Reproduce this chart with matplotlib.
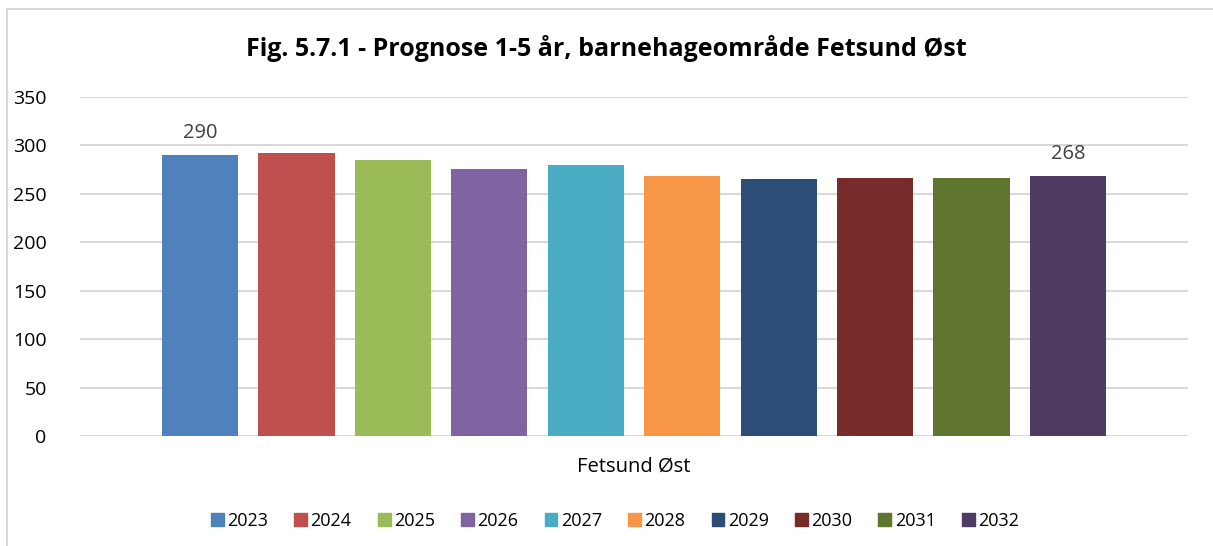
import matplotlib.pyplot as plt
from matplotlib.patches import Patch

years = ['2023', '2024', '2025', '2026', '2027', '2028', '2029', '2030', '2031', '2032']
values = [290, 292, 285, 276, 280, 268, 265, 266, 266, 268]
colors = ['#4f81bd', '#c0504d', '#9bbb59', '#8064a2', '#4bacc6',
          '#f79646', '#2c4d75', '#772c2a', '#5f7530', '#4d3b62']
labelled = {0, 9}  # only first and last bars carry a data label

plt.rcParams['font.family'] = ['Open Sans', 'DejaVu Sans']

fig = plt.figure(figsize=(12.13, 5.46), dpi=100)
W, H = 1213, 546
ax = fig.add_axes([80 / W, 1 - 436 / H, (1188 - 80) / W, (436 - 97) / H])

x = list(range(len(years)))
ax.bar(x, values, width=0.79, color=colors, zorder=3)
for i in labelled:
    ax.text(x[i], values[i] + 13, str(values[i]), ha='center', va='bottom',
            fontsize=14.5, color='#404040')

ax.set_ylim(0, 350)
ax.set_xlim(-1.244, 9 + 1.244)
ax.set_yticks(range(0, 351, 50))
ax.grid(axis='y', color='#d9d9d9', linewidth=1.5, zorder=0)
for s in ax.spines.values():
    s.set_visible(False)
ax.tick_params(axis='y', length=0, labelsize=14, pad=24)
ax.set_xticks([])
ax.text(0.5, -0.09, 'Fetsund Øst', transform=ax.transAxes, ha='center', va='center',
        fontsize=14.5)

fig.text(0.5, 1 - 48 / H, 'Fig. 5.7.1 - Prognose 1-5 år, barnehageområde Fetsund Øst',
         ha='center', va='center', fontsize=18, fontweight='bold')

handles = [Patch(color=c) for c in colors]
fig.legend(handles, years, loc='center', bbox_to_anchor=(615 / W, 1 - 521 / H), ncol=10,
           frameon=False, fontsize=13, handlelength=0.7, handleheight=0.7,
           handletextpad=0.2, columnspacing=1.45)

# chart frame lines
fig.add_artist(plt.Line2D([7 / W, 7 / W], [0, 1 - 9 / H], transform=fig.transFigure,
                          color='#d9d9d9', linewidth=1.5))
fig.add_artist(plt.Line2D([7 / W, 1], [1 - 9 / H, 1 - 9 / H], transform=fig.transFigure,
                          color='#d9d9d9', linewidth=1.5))

fig.savefig('out.png', dpi=100)
